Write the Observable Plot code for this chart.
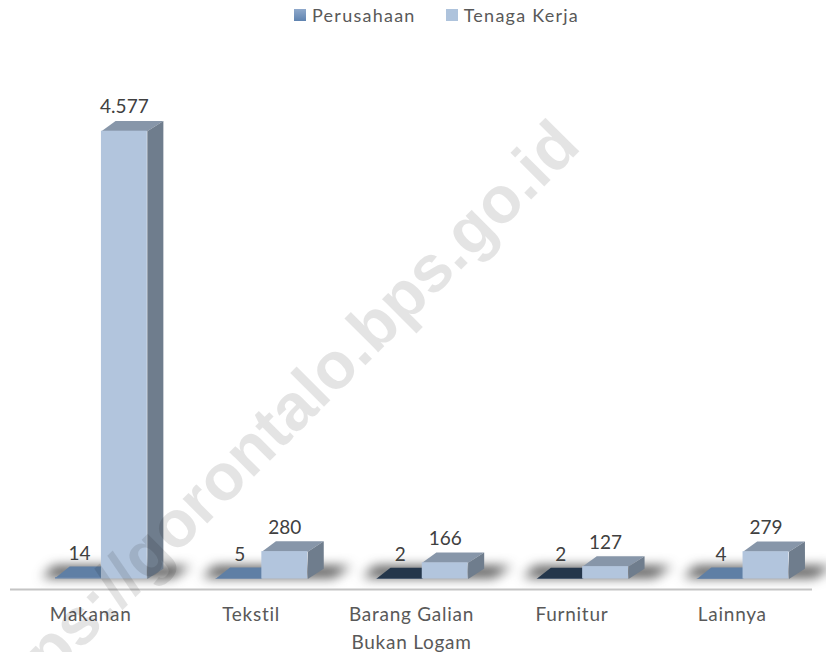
<!DOCTYPE html>
<html>
<head>
<meta charset="utf-8">
<script src="https://cdn.jsdelivr.net/npm/d3@7"></script>
<script src="https://cdn.jsdelivr.net/npm/@observablehq/plot@0.6"></script>
<style>
html,body{margin:0;padding:0;background:#fff;overflow:hidden}
#legend{height:30px;display:flex;align-items:center;font:18px Lato,sans-serif;letter-spacing:1.25px;color:#595959;padding-left:294px;box-sizing:border-box}
#legend .sw{display:inline-block;width:12px;height:12px;margin-right:6px}
#legend .it{margin-right:30px;display:flex;align-items:center}
.ground{filter:blur(6px)}
.axisline{filter:blur(.5px)}
svg{display:block}
svg [aria-label="x-axis tick label"] text{letter-spacing:.75px}
</style>
</head>
<body>
<div id="legend">
  <span class="it"><i class="sw" style="background:linear-gradient(#8fa9cb,#5f83b0)"></i>Perusahaan</span>
  <span class="it"><i class="sw" style="background:#aec3dc"></i>Tenaga Kerja</span>
</div>
<div id="chart"></div>
<script>
const categories = ["Makanan", "Tekstil", "Barang Galian\nBukan Logam", "Furnitur", "Lainnya"];
const perusahaan = [14, 5, 2, 2, 4];
const tenagaKerja = [4577, 280, 166, 127, 279];
const perusahaanTopColors = ["#5f7fa5", "#5f7fa5", "#24364b", "#24364b", "#5f7fa5"];
const watermark = "https://gorontalo.bps.go.id";

const format = d3.formatLocale({decimal: ",", thousands: ".", grouping: [3], currency: ["", ""]}).format(",d");

// offsets inside one category band, in band units
const barLeft = 0.281, barWidth = 0.286;
// apparent depth of the 3D boxes, in axis units
const depthX = 0.1, depthXLeft = 0.088, depthY = 105, axisY = -107;

const fronts = [];
const labels = [];
const sides = [];
const tops = [];
const shadows = [];
categories.forEach((c, i) => {
  const a = i + barLeft, b = a + barWidth, d = b + barWidth;
  fronts.push({x1: a, x2: b, y: perusahaan[i], fill: "#6685ad"});
  fronts.push({x1: b, x2: d, y: tenagaKerja[i], fill: "#b2c5dd"});
  labels.push({x: (a + b) / 2 + 0.006, y: perusahaan[i], t: format(perusahaan[i])});
  labels.push({x: (b + d) / 2, y: tenagaKerja[i], t: format(tenagaKerja[i])});
  const box = (id, l, r, v, top, depth) => {
    tops.push(
      {id, x: l, y: v, c: top},
      {id, x: r, y: v, c: top},
      {id, x: r + depthX, y: v + depth, c: top},
      {id, x: l + depthXLeft, y: v + depth, c: top}
    );
  };
  box("p" + i, a, b, perusahaan[i], perusahaanTopColors[i], depthY + 8);
  box("t" + i, b, d, tenagaKerja[i], "#8796a9", depthY);
  const v = tenagaKerja[i];
  sides.push(
    {id: i, x: d, y: 0},
    {id: i, x: d + depthX, y: depthY},
    {id: i, x: d + depthX, y: v + depthY},
    {id: i, x: d, y: v}
  );
  shadows.push(
    {id: i, x: a - 0.085, y: 15},
    {id: i, x: a - 0.01, y: depthY + 25},
    {id: i, x: d + depthX + 0.17, y: depthY + 25},
    {id: i, x: d + depthX + 0.06, y: 15}
  );
});

const plot = Plot.plot({
  width: 826,
  height: 622,
  marginLeft: 10,
  marginRight: 14,
  marginTop: 100.7,
  marginBottom: 63,
  style: {background: "transparent"},
  x: {type: "linear", domain: [0, categories.length], axis: null},
  y: {domain: [axisY, 4577], axis: null},
  color: {type: "identity"},
  marks: [
    Plot.line(shadows, {x: "x", y: "y", z: "id", fill: "#2e2e2e", fillOpacity: 0.85, stroke: "none", curve: "linear-closed", className: "ground"}),
    Plot.ruleY([axisY], {stroke: "#c4c4c4", strokeWidth: 2, className: "axisline"}),
    Plot.axisX({
      anchor: "bottom",
      ticks: categories.map((_, i) => i + 0.5),
      tickFormat: (d) => categories[Math.floor(d)],
      tickSize: 0,
      tickPadding: 11,
      fontSize: 19,
      lineHeight: 1.5,
      fill: "#595959",
      label: null
    }),
    Plot.line(tops, {x: "x", y: "y", z: "id", fill: "c", stroke: "none", curve: "linear-closed"}),
    Plot.line(sides, {x: "x", y: "y", z: "id", fill: "#6f7d8d", stroke: "none", curve: "linear-closed"}),
    Plot.rect(fronts, {x1: "x1", x2: "x2", y1: 0, y2: "y", fill: "fill"}),
    Plot.text(labels, {x: "x", y: "y", text: "t", dy: -24, fontSize: 19, fill: "#404040", textAnchor: "middle"}),
    Plot.text([watermark], {
      frameAnchor: "top-left",
      dx: 572, dy: 17,
      text: (d) => d,
      rotate: -45,
      textAnchor: "end",
      lineAnchor: "bottom",
      fontSize: 66,
      fontWeight: 700,
      fontFamily: "Liberation Sans",
      fill: "#000",
      fillOpacity: 0.105
    })
  ]
});
plot.style.fontFamily = "Lato, sans-serif";
plot.style.overflow = "visible";
document.getElementById("chart").append(plot);
</script>
</body>
</html>
